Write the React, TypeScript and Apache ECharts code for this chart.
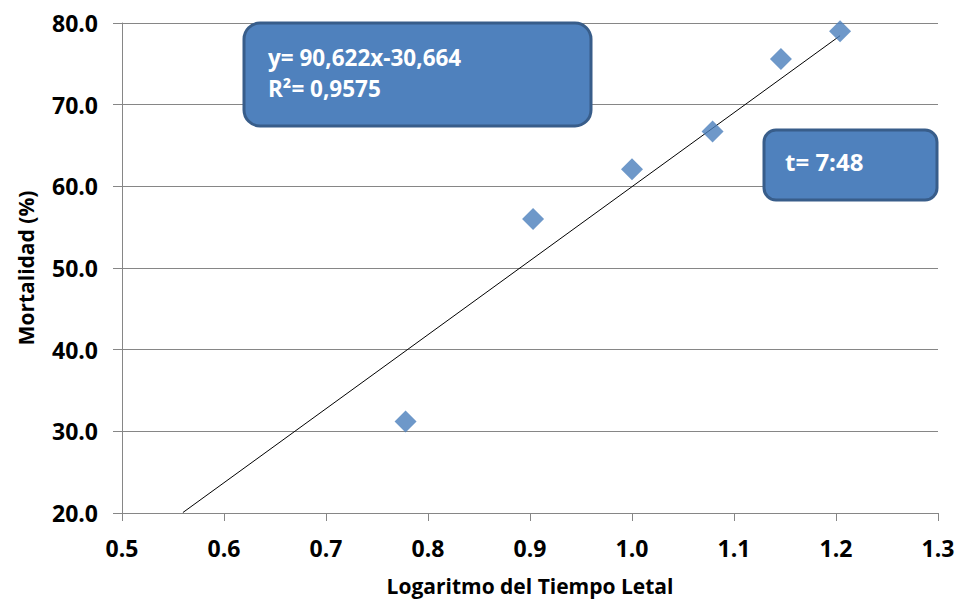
import React, { useEffect, useRef } from "react";
import * as echarts from "echarts";

const logTime = [0.778, 0.903, 1.0, 1.079, 1.146, 1.204];
const mortality = [31.2, 56.0, 62.1, 66.7, 75.6, 79.0];
const slope = 90.622;
const intercept = -30.664;
const trendX = [0.5597, 1.204];
const equationText = "y= 90,622x-30,664";
const r2Text = "R²= 0,9575";
const tText = "t= 7:48";

const FONT = "'Open Sans', 'Noto Sans', sans-serif";

export default function App() {
  const ref = useRef<HTMLDivElement>(null);
  useEffect(() => {
    document.body.style.margin = "0";
    const chart = echarts.init(ref.current!, null, { renderer: "svg" });
    const points = logTime.map((x, i) => [x, mortality[i]]);
    const trend = trendX.map((x) => [x, slope * x + intercept]);
    chart.setOption({
      animation: false,
      backgroundColor: "#ffffff",
      grid: { left: 122, right: 22, top: 23, bottom: 82, containLabel: false },
      xAxis: {
        type: "value",
        min: 0.5,
        max: 1.3,
        interval: 0.1,
        name: "Logaritmo del Tiempo Letal",
        nameLocation: "middle",
        nameGap: 62,
        nameTextStyle: { fontFamily: FONT, fontWeight: "bold", fontSize: 21, color: "#000" },
        axisLine: { show: true, lineStyle: { color: "#868686", width: 1 } },
        axisTick: { show: true, length: 8, lineStyle: { color: "#868686" } },
        axisLabel: {
          margin: 23,
          fontFamily: FONT,
          fontWeight: "bold",
          fontSize: 23,
          color: "#000",
          formatter: (v: number) => v.toFixed(1),
        },
        splitLine: { show: false },
      },
      yAxis: {
        type: "value",
        min: 20,
        max: 80,
        interval: 10,
        name: "Mortalidad (%)",
        nameLocation: "middle",
        nameGap: 86,
        nameTextStyle: { fontFamily: FONT, fontWeight: "bold", fontSize: 21, color: "#000" },
        axisLine: { show: true, lineStyle: { color: "#868686", width: 1 } },
        axisTick: { show: true, length: 9, lineStyle: { color: "#868686" } },
        axisLabel: {
          margin: 24,
          fontFamily: FONT,
          fontWeight: "bold",
          fontSize: 23,
          color: "#000",
          formatter: (v: number) => v.toFixed(1),
        },
        splitLine: { show: true, lineStyle: { color: "#868686", width: 1 } },
      },
      series: [
        {
          type: "line",
          data: trend,
          symbol: "none",
          lineStyle: { color: "#000", width: 1 },
          z: 2,
        },
        {
          type: "scatter",
          data: points,
          symbol: "diamond",
          symbolSize: [22, 22],
          itemStyle: { color: "#4A7EBB" },
          z: 3,
        },
      ],
      graphic: [
        {
          type: "rect",
          shape: { x: 244, y: 23, width: 347, height: 103, r: 16 },
          style: { fill: "#4F81BD", stroke: "#385D8A", lineWidth: 3 },
          z: 10,
        },
        {
          type: "text",
          x: 268,
          y: 57,
          style: {
            text: equationText,
            fill: "#fff",
            fontFamily: FONT,
            fontWeight: "bold",
            fontSize: 22.5,
            verticalAlign: "middle",
          },
          z: 11,
        },
        {
          type: "text",
          x: 268,
          y: 88,
          style: {
            text: r2Text,
            fill: "#fff",
            fontFamily: FONT,
            fontWeight: "bold",
            fontSize: 22.5,
            verticalAlign: "middle",
          },
          z: 11,
        },
        {
          type: "rect",
          shape: { x: 764, y: 130, width: 173, height: 70, r: 12 },
          style: { fill: "#4F81BD", stroke: "#385D8A", lineWidth: 3 },
          z: 10,
        },
        {
          type: "text",
          x: 785,
          y: 161,
          style: {
            text: tText,
            fill: "#fff",
            fontFamily: FONT,
            fontWeight: "bold",
            fontSize: 24,
            verticalAlign: "middle",
          },
          z: 11,
        },
      ],
    });
    return () => chart.dispose();
  }, []);
  return <div ref={ref} style={{ width: 960, height: 601 }} />;
}
